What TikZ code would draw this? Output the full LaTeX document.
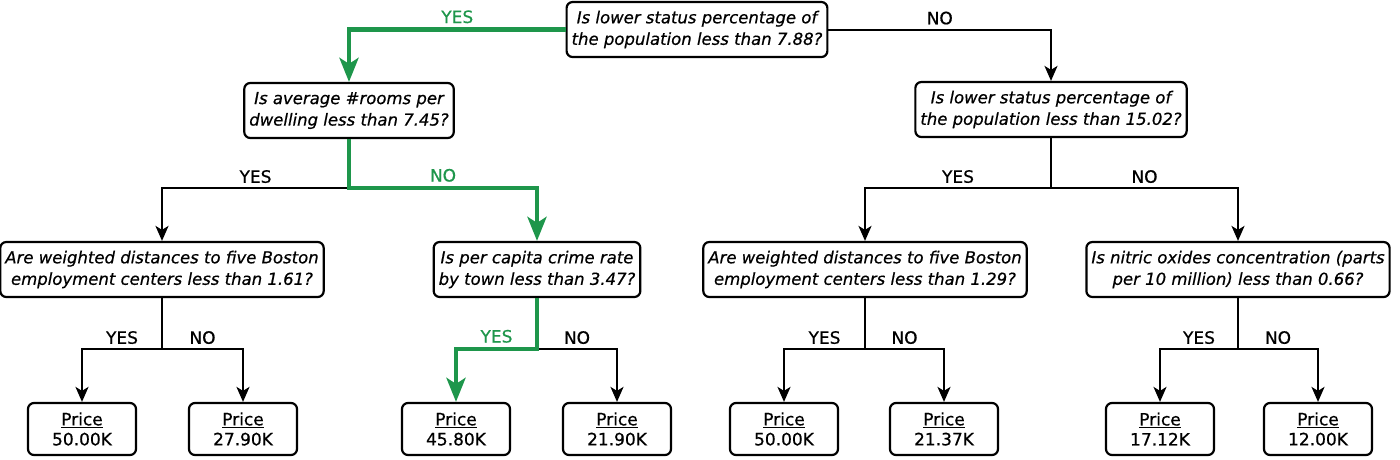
\documentclass[tikz,border=0pt]{standalone}
\usepackage{fontspec}
\setmainfont{DejaVu Sans}[FakeBold=0.6]
\usetikzlibrary{arrows.meta}
\definecolor{pathgreen}{RGB}{30,150,75}
\tikzset{
  >={Stealth[length=15pt,width=13pt,inset=4pt]},
}
\tikzstyle{question}=[draw,line width=2.2pt,rounded corners=6pt,align=center,inner xsep=5pt,minimum height=55pt,font=\fontsize{16.5}{21.5}\selectfont\itshape]
\tikzstyle{leaf}=[draw,line width=2.2pt,rounded corners=6pt,align=center,minimum width=108pt,minimum height=52pt,font=\fontsize{17}{20}\selectfont]
\tikzstyle{link}=[line width=2pt,->]
\tikzstyle{chosen}=[line width=4.5pt,pathgreen,-{Stealth[length=24pt,width=19pt,inset=6pt]}]
\tikzstyle{answer}=[above,inner sep=4pt,font=\fontsize{17}{20}\selectfont]

\begin{document}
\begin{tikzpicture}[x=1pt,y=-1pt]
  \useasboundingbox (0,0) rectangle (1400,459);
  \node[question] (root) at (697,29.5) {Is lower status percentage of\\the population less than 7.88?};
  \node[question] (l1) at (349,110.5) {Is average \#rooms per\\dwelling less than 7.45?};
  \node[question] (r1) at (1051,109.5) {Is lower status percentage of\\the population less than 15.02?};
  \node[question] (ll) at (162,269.5) {Are weighted distances to five Boston\\employment centers less than 1.61?};
  \node[question] (lr) at (537,269.5) {Is per capita crime rate\\by town less than 3.47?};
  \node[question] (rl) at (865,269.5) {Are weighted distances to five Boston\\employment centers less than 1.29?};
  \node[question] (rr) at (1238,269.5) {Is nitric oxides concentration (parts\\per 10 million) less than 0.66?};
  \node[leaf] (llyes) at (82,429) {\underline{Price}\\50.00K};
  \node[leaf] (llno) at (243,429) {\underline{Price}\\27.90K};
  \node[leaf] (lryes) at (456,429) {\underline{Price}\\45.80K};
  \node[leaf] (lrno) at (617,429) {\underline{Price}\\21.90K};
  \node[leaf] (rlyes) at (784,429) {\underline{Price}\\50.00K};
  \node[leaf] (rlno) at (944,429) {\underline{Price}\\21.37K};
  \node[leaf] (rryes) at (1160,429) {\underline{Price}\\17.12K};
  \node[leaf] (rrno) at (1318,429) {\underline{Price}\\12.00K};

  \coordinate (sl1) at (l1.south |- 0,188);
  \coordinate (sr1) at (r1.south |- 0,188);
  \coordinate (sll) at (ll.south |- 0,349);
  \coordinate (slr) at (lr.south |- 0,349);
  \coordinate (srl) at (rl.south |- 0,349);
  \coordinate (srr) at (rr.south |- 0,349);

  \draw[link] (root.east) -| node[answer,pos=.25]{NO} (r1.north);
  \draw[chosen] (root.west) -| node[answer,pos=.25]{YES} (l1.north);

  \draw[link] (sl1) -| node[answer,pos=.25]{YES} (ll.north);
  \draw[chosen] (l1.south) -- (sl1) -| node[answer,pos=.25]{NO} (lr.north);
  \draw[link] (r1.south) -- (sr1) -| node[answer,pos=.25]{YES} (rl.north);
  \draw[link] (sr1) -| node[answer,pos=.25]{NO} (rr.north);

  \draw[link] (ll.south) -- (sll) -| node[answer,pos=.25]{YES} (llyes.north);
  \draw[link] (sll) -| node[answer,pos=.25]{NO} (llno.north);
  \draw[link] (slr) -| node[answer,pos=.25]{NO} (lrno.north);
  \draw[chosen] (lr.south) -- (slr) -| node[answer,pos=.25]{YES} (lryes.north);
  \draw[link] (rl.south) -- (srl) -| node[answer,pos=.25]{YES} (rlyes.north);
  \draw[link] (srl) -| node[answer,pos=.25]{NO} (rlno.north);
  \draw[link] (rr.south) -- (srr) -| node[answer,pos=.25]{YES} (rryes.north);
  \draw[link] (srr) -| node[answer,pos=.25]{NO} (rrno.north);
\end{tikzpicture}
\end{document}
